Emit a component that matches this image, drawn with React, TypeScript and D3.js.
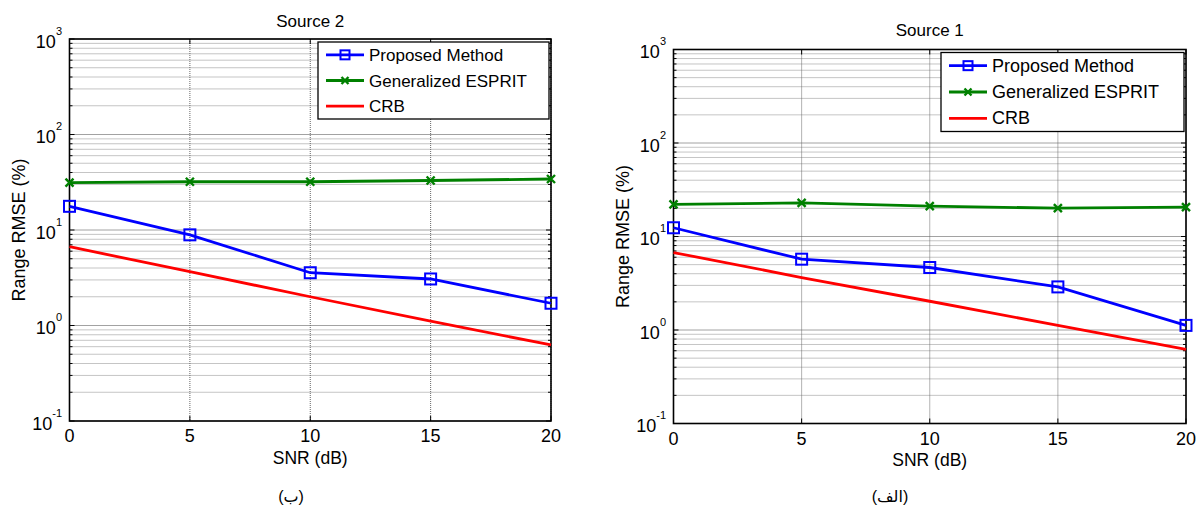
import React from "react";
import * as d3 from "d3";

// ---- data ----
const snr = [0, 5, 10, 15, 20];
const s2Proposed = [17.7, 8.9, 3.57, 3.07, 1.71];
const s2Esprit = [31.3, 32, 32, 33, 34.2];
const s2Crb = [6.68, 3.66, 2.0, 1.11, 0.625];
const s1Proposed = [12.4, 5.72, 4.66, 2.89, 1.12];
const s1Esprit = [22.1, 22.9, 21.1, 20.1, 20.6];
const s1Crb = [6.74, 3.64, 2.03, 1.12, 0.62];
const xTicks = [0, 5, 10, 15, 20];
const yDecades = [-1, 0, 1, 2, 3];
const legendLabels = ["Proposed Method", "Generalized ESPRIT", "CRB"];
const xLabel = "SNR (dB)";
const yLabel = "Range RMSE (%)";

const BLUE = "#0000ff";
const GREEN = "#008000";
const RED = "#ff0000";
const FONT = "'Liberation Sans', Arial, 'DejaVu Sans', sans-serif";

type PanelProps = {
  x0: number; x1: number; y0: number; y1: number;
  title: string; titleY: number;
  caption: string; captionX: number; captionY: number;
  yLabelX: number; xLabelY: number;
  legW: number; legH: number; legFont: number;
  proposed: number[]; esprit: number[]; crb: number[];
};

function Panel(p: PanelProps) {
  const xs = d3.scaleLinear().domain([0, 20]).range([p.x0, p.x1]);
  const ys = d3.scaleLog().domain([0.1, 1000]).range([p.y1, p.y0]);
  const line = d3.line<number>().x((_, i) => xs(snr[i])).y((d) => ys(d));

  const minors: number[] = [];
  const majors: number[] = [];
  for (let d = -1; d <= 2; d++) {
    for (let k = 2; k <= 9; k++) minors.push(k * Math.pow(10, d));
  }
  yDecades.forEach((d) => majors.push(Math.pow(10, d)));

  const legX = p.x1 - 2 - p.legW;
  const legY = p.y0 + 3;
  const rowH = p.legH / 3;

  const square = (cx: number, cy: number, key: string | number, s = 11) => (
    <rect key={key} x={cx - s / 2} y={cy - s / 2} width={s} height={s} fill="none" stroke={BLUE} strokeWidth={2} />
  );
  const cross = (cx: number, cy: number, key: string | number, s = 4) => (
    <path key={key} d={`M${cx - s},${cy - s}L${cx + s},${cy + s}M${cx - s},${cy + s}L${cx + s},${cy - s}`} stroke={GREEN} strokeWidth={2.4} />
  );

  return (
    <g fontFamily={FONT}>
      {/* minor y grid */}
      {minors.map((v, i) => (
        <line key={"mg" + i} x1={p.x0} x2={p.x1} y1={ys(v)} y2={ys(v)} stroke="#8a8a8a" strokeWidth={1} strokeDasharray="1,1" />
      ))}
      {majors.map((v, i) => (
        <line key={"Mg" + i} x1={p.x0} x2={p.x1} y1={ys(v)} y2={ys(v)} stroke="#444" strokeWidth={1} strokeDasharray="1,1" />
      ))}
      {xTicks.map((t, i) => (
        <line key={"xg" + i} x1={xs(t)} x2={xs(t)} y1={p.y0} y2={p.y1} stroke="#666" strokeWidth={1} strokeDasharray="1,1" />
      ))}
      {/* ticks */}
      {minors.map((v, i) => (
        <g key={"mt" + i}>
          <line x1={p.x0} x2={p.x0 + 3} y1={ys(v)} y2={ys(v)} stroke="#000" />
          <line x1={p.x1} x2={p.x1 - 3} y1={ys(v)} y2={ys(v)} stroke="#000" />
        </g>
      ))}
      {majors.map((v, i) => (
        <g key={"Mt" + i}>
          <line x1={p.x0} x2={p.x0 + 5} y1={ys(v)} y2={ys(v)} stroke="#000" />
          <line x1={p.x1} x2={p.x1 - 5} y1={ys(v)} y2={ys(v)} stroke="#000" />
        </g>
      ))}
      {xTicks.map((t, i) => (
        <g key={"xt" + i}>
          <line x1={xs(t)} x2={xs(t)} y1={p.y1} y2={p.y1 - 5} stroke="#000" />
          <line x1={xs(t)} x2={xs(t)} y1={p.y0} y2={p.y0 + 5} stroke="#000" />
        </g>
      ))}
      {/* frame */}
      <rect x={p.x0} y={p.y0} width={p.x1 - p.x0} height={p.y1 - p.y0} fill="none" stroke="#000" strokeWidth={1.6} />

      {/* tick labels */}
      {xTicks.map((t, i) => (
        <text key={"xl" + i} x={xs(t)} y={p.y1 + 21} textAnchor="middle" fontSize={18} fill="#000">{t}</text>
      ))}
      {yDecades.map((d, i) => (
        <text key={"yl" + i} x={p.x0 - 7.5} y={ys(Math.pow(10, d)) + 8.5} textAnchor="end" fontSize={18} fill="#000">
          10<tspan dy={-13} fontSize={11}>{d}</tspan>
        </text>
      ))}

      {/* axis labels */}
      <text x={(p.x0 + p.x1) / 2} y={p.xLabelY} textAnchor="middle" fontSize={17.5} fill="#000">{xLabel}</text>
      <text transform={`translate(${p.yLabelX},${(p.y0 + p.y1) / 2}) rotate(-90)`} textAnchor="middle" fontSize={18} fill="#000">{yLabel}</text>
      <text x={(p.x0 + p.x1) / 2} y={p.titleY} textAnchor="middle" fontSize={17} fill="#000">{p.title}</text>
      <text x={p.captionX} y={p.captionY} textAnchor="middle" fontSize={16} fill="#000">{p.caption}</text>

      {/* series */}
      <path d={line(p.crb) || ""} fill="none" stroke={RED} strokeWidth={2.8} />
      <path d={line(p.esprit) || ""} fill="none" stroke={GREEN} strokeWidth={2.8} />
      {p.esprit.map((v, i) => cross(xs(snr[i]), ys(v), "c" + i))}
      <path d={line(p.proposed) || ""} fill="none" stroke={BLUE} strokeWidth={2.8} />
      {p.proposed.map((v, i) => square(xs(snr[i]), ys(v), "s" + i))}

      {/* legend */}
      <rect x={legX} y={legY} width={p.legW} height={p.legH} fill="#fff" stroke="#000" strokeWidth={1.3} />
      {legendLabels.map((lab, i) => {
        const cy = legY + rowH * (i + 0.5);
        const lx0 = legX + 8, lx1 = legX + 46;
        const col = [BLUE, GREEN, RED][i];
        return (
          <g key={"lg" + i}>
            <line x1={lx0} x2={lx1} y1={cy} y2={cy} stroke={col} strokeWidth={2.8} />
            {i === 0 && square((lx0 + lx1) / 2, cy, "ls", 9)}
            {i === 1 && cross((lx0 + lx1) / 2, cy, "lc", 3.5)}
            <text x={lx1 + 5} y={cy + 6} fontSize={p.legFont} fill="#000">{lab}</text>
          </g>
        );
      })}
    </g>
  );
}

export default function App() {
  return (
    <svg width={1198} height={512} style={{ position: "absolute", left: 0, top: 0, background: "#fff" }}>
      <rect width={1198} height={512} fill="#fff" />
      <Panel x0={69.5} x1={551} y0={39} y1={421} title="Source 2" titleY={26.5}
        caption="(ب)" captionX={291} captionY={502} yLabelX={25} xLabelY={464}
        legW={231} legH={77} legFont={17}
        proposed={s2Proposed} esprit={s2Esprit} crb={s2Crb} />
      <Panel x0={673.5} x1={1186} y0={49.5} y1={423.5} title="Source 1" titleY={35.5}
        caption="(الف)" captionX={890} captionY={502} yLabelX={629} xLabelY={466}
        legW={243} legH={79} legFont={18}
        proposed={s1Proposed} esprit={s1Esprit} crb={s1Crb} />
    </svg>
  );
}
